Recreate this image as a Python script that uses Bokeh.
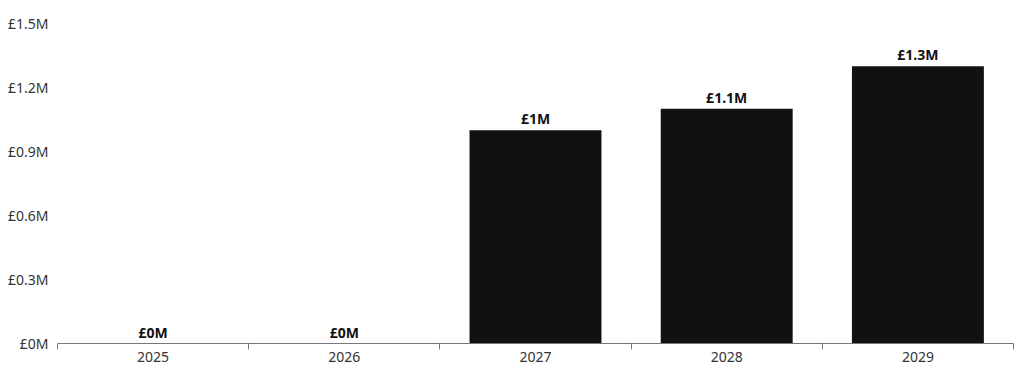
from bokeh.plotting import figure
from bokeh.models import ColumnDataSource, Range1d, FixedTicker
from bokeh.core.properties import value
from bokeh.embed import file_html
from bokeh.resources import INLINE

years = ["2025", "2026", "2027", "2028", "2029"]
values_m = [0.0, 0.0, 1.0, 1.1, 1.3]
bar_labels = ["£0M", "£0M", "£1M", "£1.1M", "£1.3M"]
y_ticks = [0, 0.3, 0.6, 0.9, 1.2, 1.5]
y_tick_labels = ["£0M", "£0.3M", "£0.6M", "£0.9M", "£1.2M", "£1.5M"]

FONT = "Noto Sans"

n = len(years)
centres = [i + 0.5 for i in range(n)]
src = ColumnDataSource(dict(x=centres, val=values_m, lab=bar_labels))

p = figure(width=1015, height=368, x_range=Range1d(0, n),
           y_range=Range1d(0, 1.5), output_backend="svg", toolbar_location=None,
           min_border_left=57, min_border_right=2,
           min_border_top=23, min_border_bottom=25)
p.outline_line_color = None
p.xgrid.visible = False
p.ygrid.visible = False
p.background_fill_color = "white"
p.border_fill_color = "white"

p.vbar(x="x", top="val", width=0.69, source=src, fill_color="#111111", line_color=None)
p.text(x="x", y="val", text="lab", source=src, text_align="center",
       text_baseline="bottom", y_offset=-2, text_font=value(FONT),
       text_font_style="bold", text_font_size="14px", text_color="#111111")

# y axis
ya = p.yaxis[0]
ya.ticker = FixedTicker(ticks=y_ticks)
ya.major_label_overrides = {t: l for t, l in zip(y_ticks, y_tick_labels)}
ya.axis_line_color = None
ya.major_tick_line_color = None
ya.minor_tick_line_color = None
ya.major_tick_out = 0
ya.major_tick_in = 0
ya.minor_tick_out = 0
ya.major_label_text_font = FONT
ya.major_label_text_font_size = "14px"
ya.major_label_text_color = "#333333"
ya.major_label_standoff = 9

# x axis: ticks between categories, labels at centres
xa = p.xaxis[0]
xa.ticker = FixedTicker(ticks=centres, minor_ticks=list(range(n + 1)))
xa.major_label_overrides = {c: y for c, y in zip(centres, years)}
xa.major_tick_out = 0
xa.major_tick_in = 0
xa.minor_tick_out = 6
xa.minor_tick_in = 0
xa.axis_line_color = "#777777"
xa.minor_tick_line_color = "#777777"
xa.major_label_text_font = FONT
xa.major_label_text_font_size = "14px"
xa.major_label_text_color = "#333333"
xa.major_label_standoff = 2

open("out.html", "w").write(file_html(p, INLINE))
